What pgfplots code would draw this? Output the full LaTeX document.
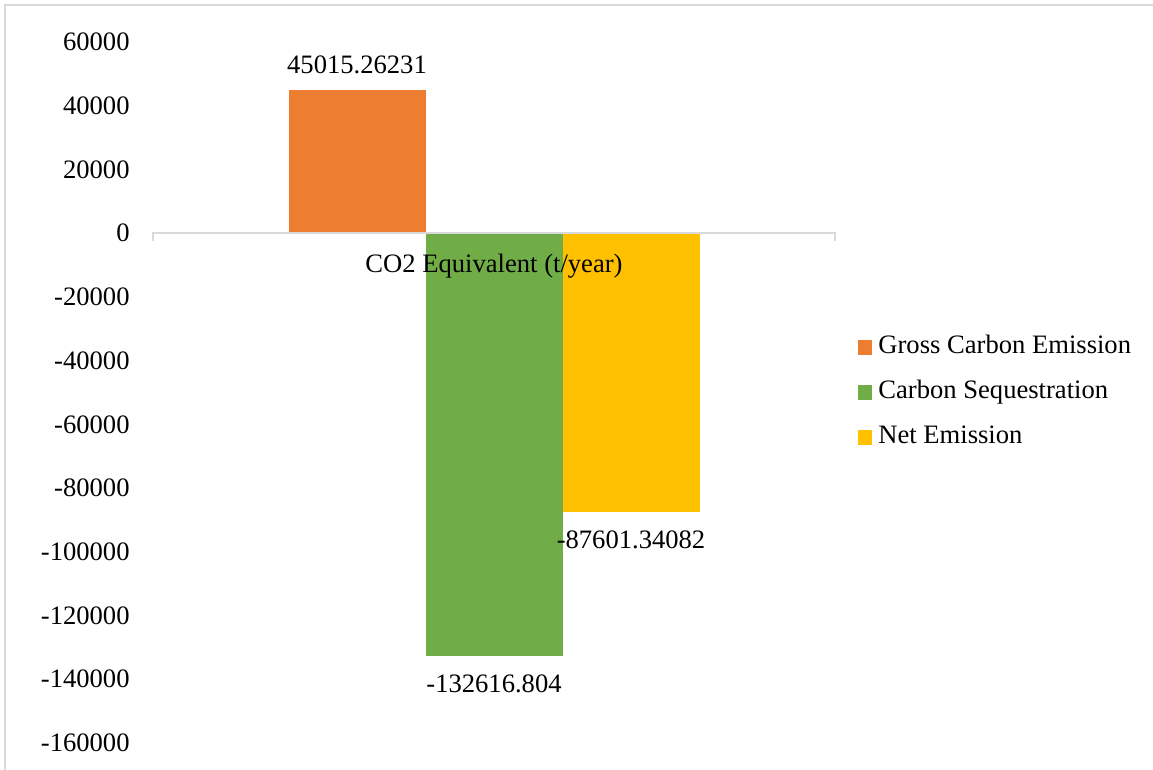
\documentclass[border=0pt]{standalone}
\usepackage{pgfplots}
\pgfplotsset{compat=1.18}
\usepackage{fontspec}
\setmainfont{Liberation Serif}
\definecolor{cOr}{HTML}{ED7D31}
\definecolor{cGr}{HTML}{70AD47}
\definecolor{cYe}{HTML}{FFC000}
\definecolor{cAx}{HTML}{D9D9D9}
\begin{document}
\fontsize{13.3}{16}\selectfont
\begin{tikzpicture}
\path[use as bounding box] (-76.5pt,-13.5pt) rectangle (500pt,371.5pt);
\draw[cAx, line width=0.75pt] (-74pt,-13.5pt) -- (-74pt,369pt) -- (500pt,369pt);
\begin{axis}[
  at={(0,0)}, anchor=south west,
  scale only axis, width=341pt, height=350.5pt,
  xmin=-0.5, xmax=0.5, ymin=-160000, ymax=60000,
  axis line style={draw=none},
  major tick length=0pt,
  xtick=\empty,
  scaled y ticks=false,
  ytick={-160000,-140000,-120000,-100000,-80000,-60000,-40000,-20000,0,20000,40000,60000},
  yticklabels={-160000,-140000,-120000,-100000,-80000,-60000,-40000,-20000,0,20000,40000,60000},
  yticklabel style={inner sep=0pt, anchor=east, xshift=-11.5pt},
  clip=false,
  legend style={draw=none, fill=none, at={(1.0337,0.5)}, anchor=west,
    inner sep=0pt, row sep=10.5pt, column sep=3pt,
    nodes={inner sep=0pt, text height=9pt, text depth=3pt, anchor=base west}},
  legend image code/.code={\fill[#1] (0pt,-1pt) rectangle (7pt,6.5pt);},
]
\addplot[ybar, forget plot, fill=cOr, draw=none, bar width=68.5pt, bar shift=-68.5pt,
  point meta=explicit symbolic, nodes near coords,
  nodes near coords style={anchor=base, inner sep=0pt, xshift=-68.5pt, yshift=8pt}]
  coordinates {(0,45015.26231) [45015.26231]};
\addplot[ybar, forget plot, fill=cGr, draw=none, bar width=68.5pt, bar shift=0pt,
  point meta=explicit symbolic, nodes near coords,
  nodes near coords style={anchor=base, inner sep=0pt, yshift=-18.5pt}]
  coordinates {(0,-132616.804) [-132616.804]};
\addplot[ybar, forget plot, fill=cYe, draw=none, bar width=68.5pt, bar shift=68.5pt,
  point meta=explicit symbolic, nodes near coords,
  nodes near coords style={anchor=base, inner sep=0pt, xshift=68.5pt, yshift=-18pt}]
  coordinates {(0,-87601.34082) [-87601.34082]};
\draw[cAx, line width=0.75pt] (axis cs:-0.5,-2500) -- (axis cs:-0.5,0) -- (axis cs:0.5,0) -- (axis cs:0.5,-2500);
\node[anchor=base, inner sep=0pt] at (axis cs:0,0) [yshift=-19.5pt] {CO2 Equivalent (t/year)};
\addlegendimage{fill=cOr, draw=none}
\addlegendentry{Gross Carbon Emission}
\addlegendimage{fill=cGr, draw=none}
\addlegendentry{Carbon Sequestration}
\addlegendimage{fill=cYe, draw=none}
\addlegendentry{Net Emission}
\end{axis}
\end{tikzpicture}
\end{document}
